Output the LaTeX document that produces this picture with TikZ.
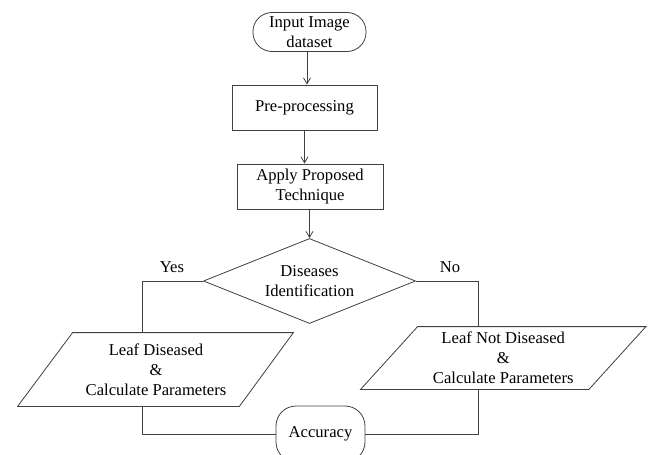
\documentclass[tikz,border=0pt]{standalone}
\usepackage{fontspec}
\setmainfont{Liberation Serif}
\usetikzlibrary{arrows.meta,shapes.geometric}
\begin{document}
\begin{tikzpicture}[x=1pt,y=-1pt,line width=0.8pt,
  every node/.style={font=\fontsize{16.6}{19.5}\selectfont,align=center,text=black},
  ln/.style={draw=black!75},
  arr/.style={ln,-{Straight Barb[length=6pt,width=7pt]}},
  term/.style={draw=black!75,rounded corners=19pt,minimum width=113pt,minimum height=39pt,inner sep=0pt},
  proc/.style={draw=black!75,rectangle,minimum width=145pt,minimum height=45pt,inner sep=0pt},
  decis/.style={draw=black!75,diamond,aspect=2.5,minimum width=212pt,minimum height=85pt,inner sep=0pt},
  iobox/.style={rectangle,inner sep=0pt,font=\fontsize{16.6}{20}\selectfont},
  lbl/.style={inner sep=0pt}]
\clip (0,0) rectangle (649,455);
\fill[white] (0,0) rectangle (649,455);
\node[term] (start) at (309.5,32) {Input Image\\dataset};
\node[proc] (pre) at (304.5,107.5) {Pre-processing};
\node[proc,minimum width=146pt] (app) at (310,186.5) {Apply Proposed\\Technique};
\node[decis] (dec) at (309.5,281) {Diseases\\Identification};
\node[iobox,minimum width=220pt,minimum height=73pt] (ld) at (156,369.5) {Leaf Diseased\\\&\\Calculate Parameters};
\node[iobox,minimum width=227.5pt,minimum height=62pt] (rd) at (503.25,358) {Leaf Not Diseased\\\&\\Calculate Parameters};
\node[term,rounded corners=20pt,minimum width=89pt,minimum height=56pt] (acc) at (320.5,434) {Accuracy};
\draw[ln] ([xshift=27pt]ld.north west) -- ([xshift=27pt]ld.north east) -- ([xshift=-27pt]ld.south east) -- ([xshift=-28pt]ld.south west) -- cycle;
\draw[ln] ([xshift=28.5pt]rd.north west) -- ([xshift=28.5pt]rd.north east) -- ([xshift=-28.5pt]rd.south east) -- ([xshift=-28.5pt]rd.south west) -- cycle;
\draw[arr] ([xshift=-2.5pt]start.south) -- ([xshift=-2.5pt]start.south |- pre.north);
\draw[arr] (pre.south) -- (pre.south |- app.north);
\draw[arr] (dec.north |- app.south) -- (dec.north);
\draw[ln] (dec.west) -| ([xshift=-14pt]ld.north);
\draw[ln] (dec.east) -| ([xshift=-25.25pt]rd.north);
\draw[ln] ([xshift=-14pt]ld.south) |- (acc.west);
\draw[ln] ([xshift=-25.25pt]rd.south) |- (acc.east);
\node[lbl] (yes) at (172,267) {Yes};
\node[lbl] (no) at (450,267) {No};
\end{tikzpicture}
\end{document}
